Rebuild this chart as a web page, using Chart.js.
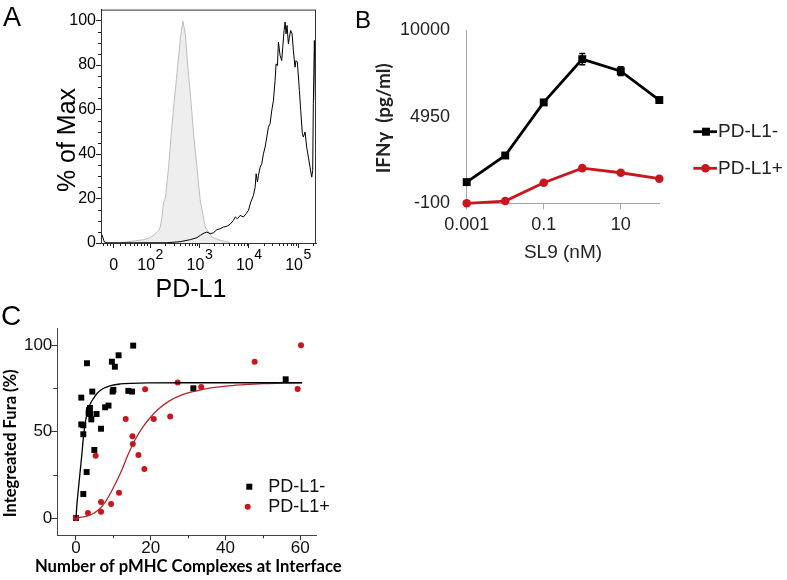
<!DOCTYPE html>
<html><head><meta charset="utf-8">
<script src="https://cdn.jsdelivr.net/npm/chart.js@4.4.1/dist/chart.umd.min.js"></script>
<style>
html,body{margin:0;padding:0;background:#fff;}
#wrap{position:relative;width:787px;height:580px;overflow:hidden;background:#fff;font-family:'Liberation Sans',Arial,Helvetica,sans-serif;}
canvas{position:absolute;}
.lbl{position:absolute;line-height:1;color:#000;}
</style></head><body>
<div id="wrap">
<canvas id="cA" width="330" height="305" style="left:0;top:0;width:330px;height:305px"></canvas>
<canvas id="cB" width="457" height="290" style="left:330px;top:0;width:457px;height:290px"></canvas>
<canvas id="cC" width="400" height="280" style="left:0;top:300px;width:400px;height:280px"></canvas>
<div class="lbl" style="left:3px;top:4px;font-size:27px">A</div>
<div class="lbl" style="left:355px;top:8px;font-size:24px">B</div>
<div class="lbl" style="left:1px;top:302px;font-size:28px">C</div>
</div>
<script>
// ---------- Panel A : flow histogram (x in display decades: 0 -> 1.257, 10^2 -> 2 ... 10^5 -> 5)
const aPosX = [1.008,1.035,1.069,1.123,1.663,2.337,2.607,2.810,2.945,3.012,3.093,3.147,3.215,3.282,3.350,3.417,3.484,3.552,3.619,3.687,3.721,3.768,3.822,3.889,3.943,3.991,4.038,4.092,4.126,4.146,4.173,4.193,4.227,4.260,4.294,4.328,4.362,4.395,4.429,4.463,4.497,4.530,4.551,4.578,4.598,4.632,4.665,4.686,4.713,4.733,4.753,4.773,4.800,4.821,4.848,4.875,4.901,4.935,4.955,4.982,5.023,5.050,5.084,5.104,5.138,5.171,5.205,5.239,5.273,5.293,5.306,5.327,5.347];
const aPosY = [4.2,2.7,0.4,0.1,0.1,0.1,0.6,1.5,2.4,3.4,4.5,4.9,4.2,4.6,6.0,6.4,7.2,7.5,8.4,10.2,11.7,10.9,12.4,11.7,13.2,14.7,18.4,21.4,25.1,31.1,27.4,30.4,34.1,35.6,40.1,43.1,47.6,52.1,53.6,59.6,64.1,73.1,80.5,79.8,90.3,84.3,82.0,88.0,95.5,99.3,94.0,97.8,89.5,92.5,95.5,94.0,86.5,79.0,82.0,81.3,68.6,59.6,49.1,47.6,49.9,43.1,38.6,34.1,29.6,32.6,62.6,91.0,64.1];
const aIsoX = [1.393,1.663,1.865,2.000,2.101,2.169,2.202,2.236,2.270,2.304,2.371,2.425,2.486,2.553,2.621,2.661,2.709,2.762,2.823,2.877,2.945,3.012,3.113,3.248,3.417,3.619];
const aIsoY = [0.1,0.9,1.5,2.4,4.2,5.7,7.2,11.7,18.4,20.0,34.1,49.1,64.1,79.0,94.0,99.7,94.0,79.0,64.1,49.1,34.1,19.2,7.2,2.7,1.2,0.3];
const aXMin = 1.0, aXMax = 5.36;
const aMajorTicks = [1.257, 2, 3, 4, 5];
const aMajorBase = ['0', '10', '10', '10', '10'];
const aMajorExp = ['', '2', '3', '4', '5'];
const aMinorTicks = [1.05,1.12,1.19,1.38,1.49,1.58,1.66,1.74,1.81,1.88,1.94,
  2.301,2.477,2.602,2.699,2.778,2.845,2.903,2.954,
  3.301,3.477,3.602,3.699,3.778,3.845,3.903,3.954,
  4.301,4.477,4.602,4.699,4.778,4.845,4.903,4.954,5.301];
const aYTicks = [0,20,40,60,80,100];
const aYMinor = [5,10,15,25,30,35,45,50,55,65,70,75,85,90,95];

// ---------- Panel B : IFN-gamma vs SL9
const sl9 = [0.001,0.01,0.1,1,10,100];
const ifnNeg = [1136,2686,5780,8299,7602,5919];
const ifnNegErr = [60,80,100,330,250,100];
const ifnPos = [-100,30,1100,1950,1680,1335];
const bYTicks = [-100,4950,10000];
const bXTicks = [0.001,0.1,10];
const bXLabels = ['0.001','0.1','10'];

// ---------- Panel C : Integrated Fura vs pMHC number
const cNegX = [0,1.96,2.85,2.94,1.42,1.42,1.96,1.96,4.36,3.47,3.74,3.38,4.1,3.8,5.5,4.9,6.7,7.8,8.7,9.6,9.8,10.0,10.4,11.4,14.0,15.0,15.3,31.4,56.1];
const cNegY = [0,13.9,26.6,89.6,69.7,54.2,53.7,48.5,73.2,62.5,63.7,60.8,57.1,60.2,60.2,39.4,51.7,64.1,65.1,90.5,73.2,74.2,87.6,94.2,73.6,73.2,99.8,75.1,80.3];
const cPosX = [0,3.2,6.7,6.7,9.4,11.5,5.25,13.3,15.1,15.2,16.7,18.3,18.5,20.8,25.2,27.2,33.5,47.8,59.3,60.2];
const cPosY = [0,2.9,3.7,9.3,8.1,14.7,36.1,57.3,47.3,42.9,36.5,28.4,74.5,57.3,58.7,78.4,75.9,90.5,74.7,100];
const cFitNegX = [0,0.27,0.7,1.15,1.6,2.0,2.5,3.0,3.7,4.7,5.8,7.4,9.5,11.8,15,20,30,40,50,60.5];
const cFitNegY = [0,8.5,18,27.8,37.5,47,55.5,60.5,65.5,69.3,72.5,75.1,76.8,77.6,78,78.2,78.3,78.3,78.3,78.3];
const cFitPosX = [0,2,4,6,8,10,12,14,16,18,20,22,25,28,32,36,40,45,50,55,60.5];
const cFitPosY = [0,0.6,1.9,4.6,9.8,17.5,26.5,37,46,53,58.5,63,67.8,71,73.5,75.3,76.4,77.2,77.8,78.1,78.4];
const cXTicks = [0,20,40,60], cXMinor = [10,30,50];
const cYTicks = [0,50,100], cYMinor = [25,75];

const RED = '#c8161d';
const FONT = "'Liberation Sans', Arial, Helvetica, sans-serif";
const BOLDFONT = "Lato, 'Noto Sans', 'DejaVu Sans', sans-serif";
Chart.defaults.font.family = FONT;
Chart.defaults.color = '#000';
Chart.defaults.animation = false;
Chart.defaults.events = [];
Chart.defaults.plugins.legend.display = false;
Chart.defaults.plugins.tooltip.enabled = false;

const pts = (xs, ys) => xs.map((x, i) => ({x: x, y: ys[i]}));
const setTicks = arr => (s => { s.ticks = arr.map(v => ({value: v})); });
const plain = v => String(v);

function minorX(chart, vals, len, color) {
  const {ctx, chartArea: ca, scales: {x}} = chart;
  ctx.save(); ctx.strokeStyle = color; ctx.lineWidth = 1; ctx.beginPath();
  vals.forEach(v => { const p = Math.round(x.getPixelForValue(v)) + 0.5; ctx.moveTo(p, ca.bottom); ctx.lineTo(p, ca.bottom + len); });
  ctx.stroke(); ctx.restore();
}
function minorY(chart, vals, len, color) {
  const {ctx, chartArea: ca, scales: {y}} = chart;
  ctx.save(); ctx.strokeStyle = color; ctx.lineWidth = 1; ctx.beginPath();
  vals.forEach(v => { const p = Math.round(y.getPixelForValue(v)) + 0.5; ctx.moveTo(ca.left, p); ctx.lineTo(ca.left - len, p); });
  ctx.stroke(); ctx.restore();
}
function rotText(ctx, text, x, y, font) {
  ctx.save(); ctx.translate(x, y); ctx.rotate(-Math.PI / 2);
  ctx.font = font; ctx.textAlign = 'center'; ctx.textBaseline = 'alphabetic';
  ctx.fillText(text, 0, 0); ctx.restore();
}
// bold text sized so that its rendered length equals the length measured in the figure
function fitText(ctx, text, x, y, targetW, rotated, color) {
  ctx.save();
  ctx.font = 'bold 20px ' + BOLDFONT;
  const w = ctx.measureText(text).width;
  const size = 20 * targetW / w;
  ctx.font = 'bold ' + size.toFixed(2) + 'px ' + BOLDFONT;
  ctx.fillStyle = color; ctx.textAlign = 'center'; ctx.textBaseline = 'alphabetic';
  ctx.translate(x, y);
  if (rotated) ctx.rotate(-Math.PI / 2);
  ctx.fillText(text, 0, 0);
  ctx.restore();
}

// ---------- Panel A chart
const pluginA = {
  id: 'panelA',
  afterDraw(chart) {
    const {ctx, chartArea: ca, scales: {x}} = chart;
    ctx.save();
    ctx.strokeStyle = '#333'; ctx.lineWidth = 1;
    ctx.strokeRect(ca.left + 0.5, ca.top + 0.5, ca.right - ca.left - 1, ca.bottom - ca.top);
    ctx.restore();
    minorX(chart, aMinorTicks, 3, '#222');
    minorY(chart, aYMinor, 3, '#222');
    ctx.save(); ctx.fillStyle = '#000'; ctx.textBaseline = 'alphabetic'; ctx.textAlign = 'left';
    aMajorTicks.forEach((v, i) => {
      const px = x.getPixelForValue(v);
      ctx.font = '16px ' + FONT; const wb = ctx.measureText(aMajorBase[i]).width;
      ctx.font = '14px ' + FONT; const we = aMajorExp[i] ? ctx.measureText(aMajorExp[i]).width + 0.5 : 0;
      const sx = px - (wb + we) / 2;
      ctx.font = '16px ' + FONT; ctx.fillText(aMajorBase[i], sx, 270);
      if (aMajorExp[i]) { ctx.font = '14px ' + FONT; ctx.fillText(aMajorExp[i], sx + wb + 0.5, 258.5); }
    });
    ctx.font = '25px ' + FONT; ctx.textAlign = 'center';
    ctx.fillText('PD-L1', 191, 297);
    ctx.restore();
    ctx.save(); ctx.fillStyle = '#000';
    rotText(ctx, '% of Max', 75, 140, '25px ' + FONT);
    ctx.restore();
  }
};
new Chart(document.getElementById('cA'), {
  type: 'line',
  data: {datasets: [
    {label: 'PD-L1', data: pts(aPosX, aPosY), borderColor: '#000', borderWidth: 1, pointRadius: 0, tension: 0, fill: false, order: 0},
    {label: 'Control', data: pts(aIsoX, aIsoY), borderColor: '#bdbdbd', backgroundColor: '#eeeeee', borderWidth: 1, pointRadius: 0, tension: 0, fill: 'origin', order: 1}
  ]},
  options: {
    responsive: false, maintainAspectRatio: false,
    layout: {padding: {left: 0, top: 9, right: 14, bottom: 0}},
    scales: {
      x: {type: 'linear', min: aXMin, max: aXMax, afterBuildTicks: setTicks(aMajorTicks), afterFit: s => { s.height = 62; },
          ticks: {callback: () => '', autoSkip: false, maxRotation: 0},
          grid: {drawOnChartArea: false, color: '#222', tickLength: 5}, border: {color: '#333', width: 1}},
      y: {type: 'linear', min: 0, max: 104.9, afterBuildTicks: setTicks(aYTicks), afterFit: s => { s.width = 101; },
          ticks: {font: {size: 16}, padding: 0, color: '#000', callback: plain},
          grid: {drawOnChartArea: false, color: '#222', tickLength: 5}, border: {color: '#333', width: 1}}
    }
  },
  plugins: [pluginA]
});

// ---------- Panel B chart
const pluginB = {
  id: 'panelB',
  beforeDatasetsDraw(chart) {
    const {ctx, scales: {x, y}} = chart;
    ctx.save(); ctx.strokeStyle = '#000'; ctx.lineWidth = 1.5; ctx.beginPath();
    sl9.forEach((c, i) => {
      const px = x.getPixelForValue(c);
      const y1 = y.getPixelForValue(ifnNeg[i] + ifnNegErr[i]), y2 = y.getPixelForValue(ifnNeg[i] - ifnNegErr[i]);
      ctx.moveTo(px, y1); ctx.lineTo(px, y2);
      ctx.moveTo(px - 3, y1); ctx.lineTo(px + 3, y1);
      ctx.moveTo(px - 3, y2); ctx.lineTo(px + 3, y2);
    });
    ctx.stroke(); ctx.restore();
  },
  afterDraw(chart) {
    const ctx = chart.ctx;
    const rows = [131.7, 168.3];
    chart.data.datasets.forEach((ds, i) => {
      const yy = rows[i];
      ctx.save();
      ctx.strokeStyle = ds.borderColor; ctx.lineWidth = ds.borderWidth;
      ctx.beginPath(); ctx.moveTo(363.3, yy); ctx.lineTo(387, yy); ctx.stroke();
      ctx.fillStyle = ds.backgroundColor;
      if (ds.pointStyle === 'rect') { ctx.fillRect(376 - 4, yy - 4, 8, 8); }
      else { ctx.beginPath(); ctx.arc(375.5, yy, ds.pointRadius, 0, Math.PI * 2); ctx.fill(); }
      ctx.fillStyle = '#222'; ctx.font = '19px ' + FONT; ctx.textBaseline = 'middle'; ctx.textAlign = 'left';
      ctx.fillText(ds.label, 388, yy + 0.5);
      ctx.restore();
    });
    fitText(ctx, 'IFNγ  (pg/ml)', 60.4, 118.3, 110, true, '#222');
  }
};
new Chart(document.getElementById('cB'), {
  type: 'line',
  data: {datasets: [
    {label: 'PD-L1-', data: pts(sl9, ifnNeg), borderColor: '#000', backgroundColor: '#000', borderWidth: 2.8, pointStyle: 'rect', pointRadius: 5.6, pointBorderWidth: 0, clip: false, order: 1},
    {label: 'PD-L1+', data: pts(sl9, ifnPos), borderColor: RED, backgroundColor: RED, borderWidth: 2.8, pointStyle: 'circle', pointRadius: 4.3, pointBorderWidth: 0, clip: false, order: 0}
  ]},
  options: {
    responsive: false, maintainAspectRatio: false,
    layout: {padding: {left: 0, top: 30, right: 127.7, bottom: 0}},
    scales: {
      x: {type: 'logarithmic', min: 0.001, max: 100, afterBuildTicks: setTicks(bXTicks), afterFit: s => { s.height = 86.7; },
          ticks: {callback: v => { const k = bXTicks.indexOf(v); return k >= 0 ? bXLabels[k] : ''; }, font: {size: 18}, padding: 5, color: '#222', autoSkip: false, maxRotation: 0},
          grid: {drawOnChartArea: false, color: '#a6a6a6', tickLength: 6}, border: {color: '#a6a6a6', width: 1},
          title: {display: true, text: 'SL9 (nM)', font: {size: 19}, color: '#222', padding: {top: 0, bottom: 26}}},
      y: {type: 'linear', min: -100, max: 10000, afterBuildTicks: setTicks(bYTicks), afterFit: s => { s.width = 136.7; },
          ticks: {font: {size: 18}, padding: 16.7, color: '#222', callback: plain},
          grid: {drawOnChartArea: false, drawTicks: false}, border: {color: '#a6a6a6', width: 1}}
    }
  },
  plugins: [pluginB]
});

// ---------- Panel C chart
const pluginC = {
  id: 'panelC',
  afterDraw(chart) {
    const ctx = chart.ctx;
    minorX(chart, cXMinor, 3, '#333');
    minorY(chart, cYMinor, 4, '#333');
    ctx.save();
    ctx.fillStyle = '#000'; ctx.fillRect(249.3 - 3, 186.7 - 3, 6, 6);
    ctx.fillStyle = RED; ctx.beginPath(); ctx.arc(247.7, 206.7, 3, 0, Math.PI * 2); ctx.fill();
    ctx.fillStyle = '#111'; ctx.font = '18px ' + FONT; ctx.textBaseline = 'middle'; ctx.textAlign = 'left';
    ctx.fillText('PD-L1-', 268.3, 187);
    ctx.fillText('PD-L1+', 268.3, 207);
    ctx.restore();
    fitText(ctx, 'Integreated Fura (%)', 15.5, 143.3, 148, true, '#000');
    fitText(ctx, 'Number of pMHC Complexes at Interface', 188.3, 271.5, 307, false, '#000');
  }
};
new Chart(document.getElementById('cC'), {
  type: 'scatter',
  data: {datasets: [
    {label: 'fit PD-L1-', data: pts(cFitNegX, cFitNegY), showLine: true, borderColor: '#000', borderWidth: 1.3, pointRadius: 0, cubicInterpolationMode: 'monotone', order: 0},
    {label: 'fit PD-L1+', data: pts(cFitPosX, cFitPosY), showLine: true, borderColor: '#b3262c', borderWidth: 1.3, pointRadius: 0, cubicInterpolationMode: 'monotone', order: 0},
    {label: 'PD-L1+', data: pts(cPosX, cPosY), pointStyle: 'circle', pointRadius: 3, backgroundColor: RED, borderWidth: 0, order: 1, clip: false},
    {label: 'PD-L1-', data: pts(cNegX, cNegY), pointStyle: 'rect', pointRadius: 4.2, backgroundColor: '#000', borderWidth: 0, order: 2, clip: false}
  ]},
  options: {
    responsive: false, maintainAspectRatio: false,
    layout: {padding: {left: 0, top: 28, right: 83.3, bottom: 0}},
    scales: {
      x: {type: 'linear', min: -5, max: 64.4, afterBuildTicks: setTicks(cXTicks), afterFit: s => { s.height = 44.7; },
          ticks: {font: {size: 17}, padding: -2, color: '#111', autoSkip: false, maxRotation: 0, callback: plain},
          grid: {drawOnChartArea: false, color: '#333', tickLength: 5}, border: {color: '#444', width: 1}},
      y: {type: 'linear', min: -10, max: 110, afterBuildTicks: setTicks(cYTicks), afterFit: s => { s.width = 57.3; },
          ticks: {font: {size: 17}, padding: -1, color: '#111', callback: plain},
          grid: {drawOnChartArea: false, color: '#333', tickLength: 6}, border: {color: '#444', width: 1}}
    }
  },
  plugins: [pluginC]
});
</script>
</body></html>
